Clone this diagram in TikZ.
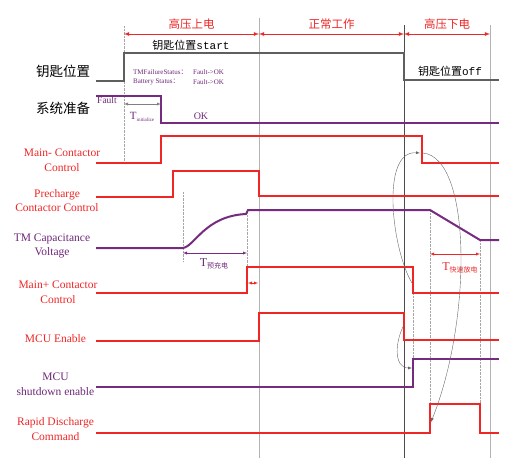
\documentclass[tikz,border=0pt]{standalone}
\usepackage{fontspec}
\setmainfont{Liberation Serif}
\newfontfamily\cjk{Noto Sans CJK SC}
\newfontfamily\monofont{Liberation Mono}
\usepackage{tikz}
\usetikzlibrary{arrows,calc,positioning}
\definecolor{sigred}{RGB}{238,38,38}
\definecolor{sigpurple}{RGB}{118,42,128}
\definecolor{keygray}{RGB}{95,95,95}
\definecolor{txtpurple}{RGB}{110,40,120}

\tikzset{
  redsig/.style={sigred, line width=2pt},
  purplesig/.style={sigpurple, line width=2pt},
  keysig/.style={keygray, line width=2pt},
  tick/.style={gray!70, densely dotted, thin},
  phase/.style={latex-latex, sigred, thick},
  lbl/.style={align=center, inner sep=1pt, font=\fontsize{11.5}{14.5}\selectfont},
  flow/.style={-latex, gray!80!black, thin}
}

\begin{document}
\begin{tikzpicture}[x=1pt, y=-1pt]
\useasboundingbox (0,0) rectangle (515,469);

% vertical markers
\draw[tick] (124,26) -- (124,163);
\draw[gray!60, thin] (259,18) -- (259,458);
\draw[black!70, thin] (404,25) -- (404,458);
\draw[gray!60, thin] (490,25) -- (490,458);
\draw[tick] (183,192) -- (183,262);
\draw[tick] (247,212) -- (247,268);
\draw[tick] (413,293) -- (413,358);
\draw[tick] (430,210) -- (430,404);
\draw[tick] (480,240) -- (480,404);

% phases
\draw[phase] (124,34) -- (259,34) node[midway, above=3pt, inner sep=1pt] (up) {\cjk\fontsize{11.5}{12}\selectfont 高压上电};
\draw[phase] (259,34) -- (404,34) node[midway, above=3pt, inner sep=1pt] (run) {\cjk\fontsize{11.5}{12}\selectfont 正常工作};
\draw[phase] (404,34) -- (490,34) node[midway, above=3pt, inner sep=1pt] (down) {\cjk\fontsize{11.5}{12}\selectfont 高压下电};

% key position
\node[lbl, font=\cjk\fontsize{13.5}{15}\selectfont] (keylbl) at (63,71) {钥匙位置};
\draw[keysig] (96,81) -- (124,81) -- (124,53) -- (404,53) -- (404,80) -- (499,80);
\node[inner sep=1pt] (keystart) at (191,45) {\cjk\fontsize{11}{12}\selectfont 钥匙位置\monofont start};
\node[inner sep=1pt] (keyoff) at (450,71) {\cjk\fontsize{11}{12}\selectfont 钥匙位置\monofont off};
\node[inner sep=0pt, anchor=west, txtpurple, font=\fontsize{7}{8}\selectfont] (tmfs) at (133,72) {TMFailureStatus{\cjk ：}};
\node[inner sep=0pt, anchor=west, txtpurple, font=\fontsize{7}{8}\selectfont] (tmfsv) at (193,72) {Fault->OK};
\node[inner sep=0pt, anchor=west, txtpurple, font=\fontsize{7}{8}\selectfont] (bats) at (133,82) {Battery Status{\cjk ：}};
\node[inner sep=0pt, anchor=west, txtpurple, font=\fontsize{7}{8}\selectfont] (batsv) at (193,82) {Fault->OK};

% system ready
\node[lbl, font=\cjk\fontsize{13.5}{15}\selectfont] (readylbl) at (63,108) {系统准备};
\draw[purplesig] (96,96) -- (161,96) -- (161,123) -- (499,123);
\node[inner sep=1pt, txtpurple, font=\fontsize{9.5}{10}\selectfont] (fault) at (107,100) {Fault};
\node[inner sep=1pt, txtpurple, font=\fontsize{10}{10}\selectfont] (ok) at (201,116) {OK};
\draw[latex-latex, gray, thin] (124,104) -- (161,104);
\node[inner sep=1pt, txtpurple] (tinit) at (142,117) {\fontsize{11}{12}\selectfont T\raisebox{-2pt}{\fontsize{5}{6}\selectfont initialize}};

% main- contactor
\node[lbl, sigred] (mminus) at (62,160) {Main- Contactor\\Control};
\draw[redsig] (96,163) -- (161,163) -- (161,136) -- (422,136) -- (422,163) -- (499,163);
\coordinate (mminusfall) at (420,153);

% precharge
\node[lbl, sigred] (prech) at (57,200.5) {Precharge\\Contactor Control};
\draw[redsig] (96,197) -- (173,197) -- (173,171) -- (259,171) -- (259,196) -- (499,196);

% capacitance voltage
\node[lbl, txtpurple] (tmcap) at (52,246) {TM Capacitance\\Voltage};
\draw[purplesig] (96,248) -- (183,248) .. controls (195,246) and (205,216) .. (246,214)
  -- (248,210) -- (430,210) -- (480,240) -- (499,240);
\draw[latex-latex, sigpurple, thin] (183,253) -- (247,253);
\node[inner sep=1pt, txtpurple] (tpre) at (214,264) {\fontsize{12}{12}\selectfont T\raisebox{-2pt}{\cjk\fontsize{7}{7}\selectfont 预充电}};
\draw[latex-latex, sigred, thin] (430,254) -- (480,254);
\node[inner sep=1pt, sigred] (tfast) at (460,268) {\fontsize{12}{12}\selectfont T\raisebox{-2pt}{\cjk\fontsize{7}{7}\selectfont 快速放电}};

% main+ contactor
\node[lbl, sigred] (mplus) at (58,292) {Main+ Contactor\\Control};
\draw[redsig] (96,293) -- (247,293) -- (247,267) -- (413,267) -- (413,293) -- (499,293);
\draw[latex-latex, sigred, thin, >=stealth] (248,283) -- (258,283);
\coordinate (mplusfall) at (412,283);

% MCU enable
\node[lbl, sigred] (mcuen) at (55.5,339) {MCU Enable};
\draw[redsig] (96,341) -- (259,341) -- (259,313) -- (404,313) -- (404,340) -- (499,340);
\coordinate (mcufall) at (405,323);

% MCU shutdown enable
\node[lbl, txtpurple] (mcusd) at (55.5,384) {MCU\\shutdown enable};
\draw[purplesig] (96,387) -- (413,387) -- (413,359) -- (499,359);
\coordinate (mcusdrise) at (412,368);

% rapid discharge
\node[lbl, sigred] (rapid) at (55.5,429) {Rapid Discharge\\Command};
\draw[redsig] (96,433) -- (430,433) -- (430,404) -- (480,404) -- (480,433) -- (499,433);
\coordinate (rapidrise) at (431,422);

% cause and effect
\draw[flow] (mplusfall) .. controls (392,250) and (380,150) .. (mminusfall);
\draw[flow] ($(mminusfall)+(3,0)$) .. controls (472,158) and (472,320) .. (rapidrise);
\draw[flow] (mcufall) .. controls (395,340) and (393,368) .. (mcusdrise);
\end{tikzpicture}
\end{document}
